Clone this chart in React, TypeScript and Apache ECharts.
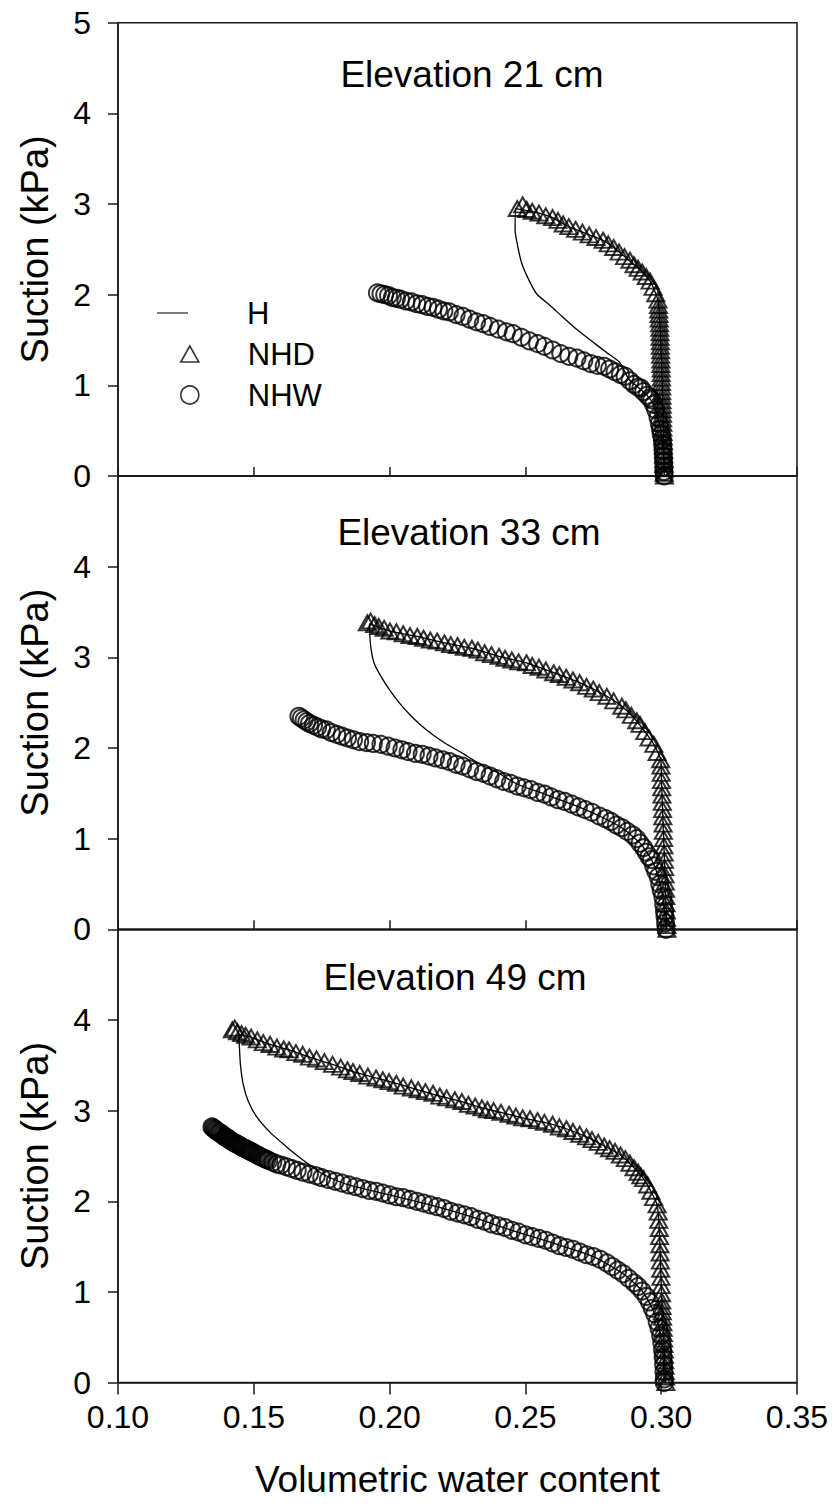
import React, { useEffect, useRef } from 'react';
import * as echarts from 'echarts';

const FONT = '"Liberation Sans", Arial, sans-serif';

const panelTitles = ['Elevation 21 cm', 'Elevation 33 cm', 'Elevation 49 cm'];
const seriesNames = ['H', 'NHD', 'NHW'];
const xAxisTitle = 'Volumetric water content';
const yAxisTitle = 'Suction (kPa)';

// Panel 1 (Elevation 21 cm)
const p1NHD = [
  [0.2470, 2.95], [0.2490, 2.99], [0.2505, 2.94], [0.2525, 2.92], [0.2550, 2.90], [0.2575, 2.87], [0.2600, 2.85],
  [0.2620, 2.82], [0.2639, 2.78], [0.2660, 2.75], [0.2685, 2.72], [0.2710, 2.69], [0.2735, 2.66], [0.2760, 2.63],
  [0.2786, 2.60], [0.2805, 2.56], [0.2825, 2.52], [0.2845, 2.47], [0.2865, 2.42], [0.2885, 2.38], [0.2900, 2.33],
  [0.2915, 2.29], [0.2930, 2.25], [0.2945, 2.20], [0.2959, 2.15], [0.2970, 2.08], [0.2980, 2.01], [0.2988, 1.94],
  [0.2990, 1.88], [0.2991, 1.83], [0.2992, 1.78], [0.2993, 1.73], [0.2994, 1.68], [0.2995, 1.63], [0.2996, 1.58],
  [0.2996, 1.53], [0.2997, 1.48], [0.2997, 1.43], [0.2998, 1.38], [0.2998, 1.33], [0.2999, 1.28], [0.2999, 1.23],
  [0.3000, 1.18], [0.3000, 1.13], [0.3001, 1.08], [0.3001, 1.03], [0.3002, 0.98], [0.3002, 0.93], [0.3003, 0.88],
  [0.3003, 0.83], [0.3004, 0.78], [0.3004, 0.73], [0.3005, 0.68], [0.3005, 0.63], [0.3006, 0.58], [0.3006, 0.53],
  [0.3007, 0.48], [0.3007, 0.43], [0.3008, 0.38], [0.3008, 0.33], [0.3009, 0.28], [0.3009, 0.23], [0.3010, 0.18],
  [0.3010, 0.13], [0.3011, 0.08], [0.3011, 0.03], [0.3012, 0.00]
];
const p1NHW = [
  [0.1955, 2.02], [0.1968, 2.01], [0.1982, 2.00], [0.1996, 1.99], [0.2010, 1.97], [0.2025, 1.96], [0.2040, 1.95],
  [0.2060, 1.93], [0.2080, 1.92], [0.2100, 1.90], [0.2120, 1.89], [0.2140, 1.87], [0.2160, 1.86], [0.2180, 1.84],
  [0.2200, 1.82], [0.2220, 1.81], [0.2245, 1.78], [0.2270, 1.76], [0.2295, 1.73], [0.2320, 1.70], [0.2345, 1.68],
  [0.2370, 1.65], [0.2400, 1.62], [0.2430, 1.59], [0.2455, 1.57], [0.2485, 1.53], [0.2515, 1.49], [0.2545, 1.46],
  [0.2570, 1.43], [0.2600, 1.39], [0.2630, 1.35], [0.2660, 1.32], [0.2690, 1.30], [0.2715, 1.27], [0.2740, 1.24],
  [0.2765, 1.22], [0.2790, 1.21], [0.2810, 1.18], [0.2830, 1.15], [0.2850, 1.12], [0.2867, 1.10], [0.2885, 1.05],
  [0.2900, 1.01], [0.2915, 0.98], [0.2925, 0.97], [0.2935, 0.93], [0.2948, 0.89], [0.2958, 0.86], [0.2965, 0.84],
  [0.2972, 0.79], [0.2980, 0.73], [0.2988, 0.65], [0.2993, 0.58], [0.2997, 0.52], [0.3000, 0.46], [0.3004, 0.40],
  [0.3006, 0.34], [0.3007, 0.28], [0.3008, 0.22], [0.3009, 0.16], [0.3010, 0.10], [0.3010, 0.05], [0.3011, 0.00]
];
const p1H = [
  [0.3012, 0.00], [0.3008, 0.50], [0.3004, 1.00], [0.2998, 1.50], [0.2993, 1.78], [0.2988, 1.94], [0.2975, 2.05],
  [0.2959, 2.15], [0.2930, 2.25], [0.2900, 2.33], [0.2865, 2.42], [0.2825, 2.52], [0.2786, 2.60], [0.2735, 2.66],
  [0.2685, 2.72], [0.2639, 2.78], [0.2600, 2.85], [0.2550, 2.90], [0.2500, 2.93], [0.2465, 2.95],
  [0.2462, 2.71], [0.2472, 2.53], [0.2486, 2.35], [0.2510, 2.18], [0.2541, 2.01], [0.2591, 1.88], [0.2635, 1.76],
  [0.2676, 1.65], [0.2739, 1.50], [0.2800, 1.36], [0.2848, 1.25], [0.2880, 1.07], [0.2915, 0.98],
  [0.2948, 0.89], [0.2972, 0.79], [0.2988, 0.65], [0.3000, 0.46], [0.3007, 0.28], [0.3011, 0.00]
];

// Panel 2 (Elevation 33 cm)
const p2NHD = [
  [0.1918, 3.38], [0.1930, 3.40], [0.1945, 3.36], [0.1960, 3.34], [0.1980, 3.32], [0.2001, 3.29], [0.2025, 3.28],
  [0.2050, 3.26], [0.2075, 3.24], [0.2102, 3.23], [0.2125, 3.21], [0.2150, 3.19], [0.2175, 3.18], [0.2202, 3.16],
  [0.2225, 3.14], [0.2250, 3.13], [0.2275, 3.11], [0.2303, 3.10], [0.2325, 3.08], [0.2350, 3.05], [0.2375, 3.03],
  [0.2403, 3.01], [0.2425, 2.99], [0.2450, 2.97], [0.2475, 2.95], [0.2504, 2.94], [0.2525, 2.91], [0.2550, 2.89],
  [0.2575, 2.86], [0.2604, 2.83], [0.2625, 2.81], [0.2650, 2.78], [0.2675, 2.75], [0.2700, 2.72], [0.2725, 2.68],
  [0.2750, 2.65], [0.2772, 2.61], [0.2800, 2.57], [0.2825, 2.52], [0.2855, 2.46], [0.2870, 2.42], [0.2890, 2.36],
  [0.2910, 2.30], [0.2922, 2.26], [0.2940, 2.18], [0.2955, 2.11], [0.2973, 2.04], [0.2985, 1.95], [0.2998, 1.87],
  [0.2999, 1.80], [0.3000, 1.72], [0.3001, 1.64], [0.3002, 1.56], [0.3003, 1.48], [0.3004, 1.40], [0.3005, 1.32],
  [0.3006, 1.24], [0.3007, 1.16], [0.3008, 1.08], [0.3009, 1.00], [0.3010, 0.92], [0.3011, 0.84], [0.3012, 0.76],
  [0.3013, 0.68], [0.3014, 0.60], [0.3015, 0.52], [0.3016, 0.44], [0.3017, 0.36], [0.3018, 0.28], [0.3019, 0.20],
  [0.3020, 0.12], [0.3021, 0.04], [0.3021, 0.00]
];
const p2NHW = [
  [0.1666, 2.35], [0.1675, 2.33], [0.1685, 2.31], [0.1695, 2.29], [0.1705, 2.27], [0.1720, 2.25], [0.1735, 2.23],
  [0.1750, 2.21], [0.1767, 2.20], [0.1785, 2.17], [0.1805, 2.15], [0.1825, 2.13], [0.1845, 2.11], [0.1867, 2.09],
  [0.1890, 2.07], [0.1915, 2.06], [0.1940, 2.05], [0.1968, 2.04], [0.1995, 2.02], [0.2020, 2.00], [0.2045, 1.98],
  [0.2068, 1.96], [0.2095, 1.94], [0.2120, 1.93], [0.2145, 1.91], [0.2169, 1.89], [0.2195, 1.87], [0.2220, 1.85],
  [0.2245, 1.82], [0.2269, 1.80], [0.2295, 1.77], [0.2320, 1.74], [0.2345, 1.72], [0.2370, 1.69], [0.2395, 1.66],
  [0.2420, 1.63], [0.2445, 1.61], [0.2470, 1.58], [0.2495, 1.56], [0.2520, 1.54], [0.2545, 1.51], [0.2571, 1.49],
  [0.2595, 1.46], [0.2620, 1.43], [0.2645, 1.41], [0.2671, 1.38], [0.2695, 1.35], [0.2720, 1.32], [0.2745, 1.29],
  [0.2772, 1.25], [0.2795, 1.22], [0.2815, 1.19], [0.2835, 1.15], [0.2855, 1.12], [0.2875, 1.08], [0.2895, 1.04],
  [0.2910, 1.00], [0.2922, 0.95], [0.2935, 0.90], [0.2945, 0.85], [0.2955, 0.80], [0.2964, 0.77], [0.2972, 0.70],
  [0.2980, 0.64], [0.2989, 0.58], [0.2995, 0.50], [0.3000, 0.43], [0.3006, 0.36], [0.3009, 0.28], [0.3012, 0.20],
  [0.3014, 0.14], [0.3016, 0.07], [0.3018, 0.00]
];
const p2H = [
  [0.3021, 0.00], [0.3014, 0.60], [0.3007, 1.16], [0.3001, 1.64], [0.2998, 1.87], [0.2973, 2.04], [0.2940, 2.18],
  [0.2900, 2.33], [0.2855, 2.46], [0.2800, 2.57], [0.2700, 2.72], [0.2604, 2.83], [0.2504, 2.94], [0.2403, 3.01],
  [0.2303, 3.10], [0.2202, 3.16], [0.2102, 3.23], [0.2001, 3.29], [0.1926, 3.37],
  [0.1928, 3.20], [0.1934, 3.05], [0.1945, 2.92], [0.1968, 2.79], [0.2000, 2.64], [0.2035, 2.50], [0.2080, 2.35],
  [0.2135, 2.20], [0.2200, 2.06], [0.2269, 1.94], [0.2335, 1.82], [0.2403, 1.72], [0.2470, 1.60], [0.2571, 1.49],
  [0.2671, 1.38], [0.2772, 1.25], [0.2855, 1.12], [0.2922, 0.95], [0.2964, 0.77], [0.2989, 0.58], [0.3006, 0.36],
  [0.3018, 0.00]
];

// Panel 3 (Elevation 49 cm)
const p3NHD = [
  [0.1421, 3.89], [0.1430, 3.91], [0.1440, 3.87], [0.1455, 3.85], [0.1470, 3.83], [0.1490, 3.81], [0.1513, 3.78],
  [0.1535, 3.75], [0.1560, 3.73], [0.1585, 3.70], [0.1610, 3.68], [0.1630, 3.67], [0.1655, 3.64], [0.1680, 3.62],
  [0.1705, 3.59], [0.1731, 3.57], [0.1760, 3.54], [0.1790, 3.51], [0.1820, 3.48], [0.1845, 3.45], [0.1865, 3.43],
  [0.1890, 3.41], [0.1920, 3.38], [0.1950, 3.36], [0.1975, 3.34], [0.1998, 3.32], [0.2025, 3.30], [0.2050, 3.27],
  [0.2080, 3.25], [0.2105, 3.23], [0.2132, 3.21], [0.2160, 3.19], [0.2185, 3.16], [0.2210, 3.14], [0.2240, 3.12],
  [0.2266, 3.10], [0.2290, 3.07], [0.2315, 3.05], [0.2340, 3.03], [0.2360, 3.01], [0.2383, 3.00], [0.2410, 2.98],
  [0.2440, 2.96], [0.2465, 2.94], [0.2490, 2.92], [0.2517, 2.91], [0.2545, 2.89], [0.2570, 2.87], [0.2600, 2.85],
  [0.2625, 2.82], [0.2651, 2.80], [0.2675, 2.77], [0.2700, 2.74], [0.2725, 2.71], [0.2745, 2.68], [0.2768, 2.65],
  [0.2790, 2.61], [0.2810, 2.58], [0.2830, 2.55], [0.2850, 2.51], [0.2868, 2.47], [0.2885, 2.42], [0.2900, 2.37],
  [0.2915, 2.32], [0.2925, 2.28], [0.2935, 2.25], [0.2950, 2.18], [0.2962, 2.11], [0.2972, 2.04], [0.2985, 1.96],
  [0.2989, 1.88], [0.2991, 1.79], [0.2993, 1.70], [0.2994, 1.61], [0.2995, 1.52], [0.2996, 1.43], [0.2997, 1.34],
  [0.2998, 1.25], [0.2999, 1.16], [0.3000, 1.07], [0.3001, 0.98], [0.3002, 0.90], [0.3003, 0.84], [0.3004, 0.78],
  [0.3005, 0.72], [0.3006, 0.66], [0.3007, 0.60], [0.3008, 0.54], [0.3009, 0.48], [0.3010, 0.42], [0.3011, 0.36],
  [0.3012, 0.30], [0.3013, 0.24], [0.3014, 0.18], [0.3015, 0.12], [0.3016, 0.06], [0.3017, 0.00]
];
const p3NHW = [
  [0.1346, 2.82], [0.1350, 2.81], [0.1354, 2.80], [0.1358, 2.79], [0.1362, 2.78], [0.1366, 2.77], [0.1370, 2.76],
  [0.1374, 2.755], [0.1378, 2.75], [0.1382, 2.74], [0.1386, 2.73], [0.1390, 2.72], [0.1394, 2.71], [0.1398, 2.705],
  [0.1402, 2.70], [0.1406, 2.69], [0.1410, 2.68], [0.1415, 2.67], [0.1420, 2.66], [0.1425, 2.65], [0.1430, 2.64],
  [0.1435, 2.635], [0.1440, 2.63], [0.1445, 2.62], [0.1450, 2.61], [0.1455, 2.60], [0.1460, 2.59], [0.1465, 2.585],
  [0.1470, 2.58], [0.1475, 2.57], [0.1480, 2.56], [0.1485, 2.555], [0.1490, 2.55], [0.1495, 2.54], [0.1500, 2.53],
  [0.1507, 2.52], [0.1513, 2.51], [0.1520, 2.50], [0.1526, 2.49], [0.1533, 2.48], [0.1540, 2.47], [0.1548, 2.46],
  [0.1555, 2.45], [0.1570, 2.43], [0.1585, 2.41], [0.1600, 2.40], [0.1620, 2.38], [0.1640, 2.36], [0.1660, 2.34],
  [0.1681, 2.32], [0.1705, 2.30], [0.1730, 2.28], [0.1750, 2.26], [0.1775, 2.24], [0.1800, 2.22], [0.1825, 2.20],
  [0.1850, 2.18], [0.1875, 2.16], [0.1900, 2.14], [0.1925, 2.12], [0.1950, 2.11], [0.1975, 2.09], [0.2000, 2.07],
  [0.2025, 2.05], [0.2050, 2.04], [0.2075, 2.02], [0.2100, 2.00], [0.2125, 1.98], [0.2150, 1.96], [0.2175, 1.94],
  [0.2200, 1.92], [0.2225, 1.89], [0.2250, 1.87], [0.2275, 1.85], [0.2300, 1.83], [0.2325, 1.80], [0.2350, 1.78],
  [0.2375, 1.75], [0.2400, 1.73], [0.2425, 1.71], [0.2450, 1.68], [0.2475, 1.66], [0.2500, 1.63], [0.2525, 1.61],
  [0.2550, 1.59], [0.2575, 1.57], [0.2600, 1.54], [0.2625, 1.51], [0.2650, 1.49], [0.2675, 1.47], [0.2700, 1.44],
  [0.2725, 1.41], [0.2750, 1.39], [0.2775, 1.36], [0.2800, 1.32], [0.2820, 1.28], [0.2840, 1.24], [0.2860, 1.20],
  [0.2880, 1.15], [0.2900, 1.10], [0.2915, 1.06], [0.2930, 1.01], [0.2945, 0.95], [0.2957, 0.89], [0.2967, 0.82],
  [0.2976, 0.76], [0.2985, 0.67], [0.2992, 0.60], [0.2998, 0.52], [0.3002, 0.44], [0.3005, 0.36], [0.3007, 0.28],
  [0.3009, 0.20], [0.3010, 0.12], [0.3011, 0.04], [0.3011, 0.00]
];
const p3H = [
  [0.3017, 0.00], [0.3010, 0.42], [0.3003, 0.84], [0.2998, 1.25], [0.2993, 1.70], [0.2985, 1.96], [0.2962, 2.11],
  [0.2935, 2.25], [0.2900, 2.37], [0.2850, 2.51], [0.2790, 2.61], [0.2725, 2.71], [0.2651, 2.80], [0.2570, 2.87],
  [0.2490, 2.92], [0.2410, 2.98], [0.2340, 3.03], [0.2266, 3.10], [0.2185, 3.16], [0.2105, 3.23], [0.2025, 3.30],
  [0.1950, 3.36], [0.1865, 3.43], [0.1790, 3.51], [0.1705, 3.59], [0.1630, 3.67], [0.1560, 3.73], [0.1490, 3.81],
  [0.1445, 3.84],
  [0.1447, 3.70], [0.1451, 3.50], [0.1461, 3.29], [0.1480, 3.10], [0.1511, 2.93], [0.1560, 2.76], [0.1621, 2.60],
  [0.1670, 2.48], [0.1719, 2.37], [0.1760, 2.29], [0.1850, 2.18], [0.2000, 2.07], [0.2150, 1.96], [0.2300, 1.83],
  [0.2450, 1.68], [0.2600, 1.54], [0.2750, 1.39], [0.2860, 1.20], [0.2930, 1.01], [0.2967, 0.82], [0.2992, 0.60],
  [0.3005, 0.36], [0.3011, 0.00]
];

const hData = [p1H, p2H, p3H];
const nhdData = [p1NHD, p2NHD, p3NHD];
const nhwData = [p1NHW, p2NHW, p3NHW];

const xMin = 0.1;
const xMax = 0.35;
const xStep = 0.05;
const yMin = 0;
const yMax = 5;
const yStep = 1;

export default function App() {
  const ref = useRef<HTMLDivElement>(null);

  useEffect(() => {
    document.body.style.margin = '0';
    if (!ref.current) return;
    const chart = echarts.init(ref.current, null, { renderer: 'svg' });

    const gridLeft = 118;
    const gridWidth = 679;
    const gridTops = [22.7, 476, 929.3];
    const gridHeight = 453.3;
    const axisColor = '#1a1a1a';

    const grids = gridTops.map((t) => ({
      left: gridLeft,
      top: t,
      width: gridWidth,
      height: gridHeight,
      show: true,
      borderColor: axisColor,
      borderWidth: 1.5,
      backgroundColor: 'transparent',
    }));

    const xAxes = gridTops.map((_, i) => ({
      type: 'value',
      gridIndex: i,
      min: xMin,
      max: xMax,
      interval: xStep,
      axisLine: { show: true, onZero: false, lineStyle: { color: axisColor, width: 1.5 } },
      axisTick: { show: true, inside: i < 2, length: i < 2 ? 9 : 12, lineStyle: { color: axisColor, width: 1.5 } },
      axisLabel: {
        show: i === 2,
        formatter: (v: number) => v.toFixed(2),
        fontSize: 32,
        fontFamily: FONT,
        color: '#000',
        margin: 18,
      },
      splitLine: { show: false },
      name: i === 2 ? xAxisTitle : '',
      nameLocation: 'middle',
      nameGap: 78,
      nameTextStyle: { fontSize: 37, fontFamily: FONT, color: '#000' },
    }));

    const yAxes = gridTops.map((_, i) => ({
      type: 'value',
      gridIndex: i,
      min: yMin,
      max: yMax,
      interval: yStep,
      axisLine: { show: true, onZero: false, lineStyle: { color: axisColor, width: 1.5 } },
      axisTick: { show: true, inside: false, length: 10, lineStyle: { color: axisColor, width: 1.5 } },
      axisLabel: {
        fontSize: 32,
        fontFamily: FONT,
        color: '#000',
        margin: 27,
        showMaxLabel: i === 0,
      },
      splitLine: { show: false },
      name: yAxisTitle,
      nameLocation: 'middle',
      nameGap: 64,
      nameTextStyle: { fontSize: 38, fontFamily: FONT, color: '#000' },
    }));

    const markerStyle = { color: 'transparent', borderColor: '#000', borderWidth: 2 };
    const series: any[] = [];
    gridTops.forEach((_, i) => {
      series.push({
        type: 'line',
        name: seriesNames[0],
        xAxisIndex: i,
        yAxisIndex: i,
        data: hData[i],
        symbol: 'none',
        showSymbol: false,
        smooth: 0.2,
        lineStyle: { color: '#000', width: 1.3 },
        itemStyle: { color: '#000' },
        z: 3,
      });
      series.push({
        type: 'scatter',
        name: seriesNames[1],
        xAxisIndex: i,
        yAxisIndex: i,
        data: nhdData[i],
        symbol: 'triangle',
        symbolSize: [17, 15],
        itemStyle: markerStyle,
        z: 2,
      });
      series.push({
        type: 'scatter',
        name: seriesNames[2],
        xAxisIndex: i,
        yAxisIndex: i,
        data: nhwData[i],
        symbol: 'circle',
        symbolSize: 17,
        itemStyle: markerStyle,
        z: 2,
      });
    });

    const legendText = { fontSize: 31, fontFamily: FONT, color: '#000' };
    const legends = [
      {
        data: [{ name: seriesNames[0], icon: 'rect' }], left: 157, top: 297.5, padding: 0, itemWidth: 31, itemHeight: 1.4,
        selectedMode: false, textStyle: { ...legendText, padding: [0, 0, 0, 54] },
        itemStyle: { color: '#444' },
      },
      {
        data: [seriesNames[1]], left: 180, top: 338.5, padding: 0, itemWidth: 18, itemHeight: 16,
        selectedMode: false, textStyle: { ...legendText, padding: [0, 0, 0, 44] },
        itemStyle: { borderWidth: 1.6 },
      },
      {
        data: [seriesNames[2]], left: 180, top: 379.5, padding: 0, itemWidth: 18, itemHeight: 18,
        selectedMode: false, textStyle: { ...legendText, padding: [0, 0, 0, 44] },
        itemStyle: { borderWidth: 1.6 },
      },
    ];

    const titleX = [472, 469, 455];
    const titleY = [74, 532, 977];
    const graphic = panelTitles.map((t, i) => ({
      type: 'text',
      x: titleX[i],
      y: titleY[i],
      style: {
        text: t,
        font: `37px ${FONT}`,
        fill: '#000',
        textAlign: 'center',
        textVerticalAlign: 'middle',
        align: 'center',
        verticalAlign: 'middle',
      },
    }));

    chart.setOption({
      animation: false,
      backgroundColor: '#fff',
      grid: grids,
      xAxis: xAxes,
      yAxis: yAxes,
      legend: legends,
      graphic,
      series,
    });

    return () => chart.dispose();
  }, []);

  return <div ref={ref} style={{ width: 835, height: 1511 }} />;
}
